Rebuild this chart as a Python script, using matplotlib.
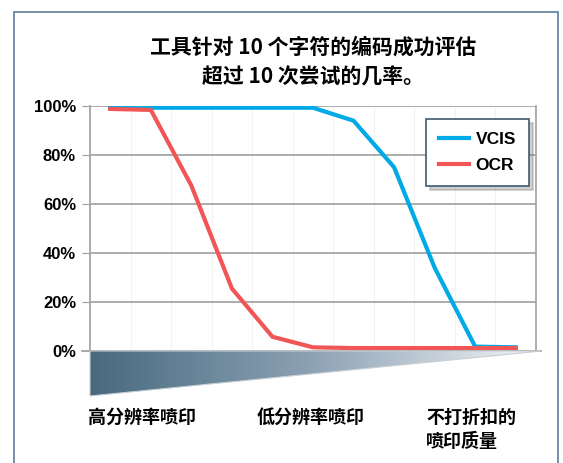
import numpy as np
import matplotlib
matplotlib.use("Agg")
import matplotlib.pyplot as plt
from matplotlib.patches import Polygon, Rectangle
from matplotlib.colors import LinearSegmentedColormap

plt.rcParams['font.family'] = ['Liberation Sans', 'Noto Sans CJK SC', 'DejaVu Sans']

# ---- data ----
categories = list(range(11))
vcis = [99.3, 99.3, 99.3, 99.3, 99.3, 99.3, 94, 75, 34, 1.8, 1.5]
ocr = [98.8, 98.4, 67.5, 25.5, 5.8, 1.5, 1.2, 1.2, 1.2, 1.2, 1.2]
series_names = ["VCIS", "OCR"]
ytick_values = [0, 20, 40, 60, 80, 100]
ytick_labels = ["0%", "20%", "40%", "60%", "80%", "100%"]
title_text = "工具针对 10 个字符的编码成功评估\n超过 10 次尝试的几率。"
xlabels = ["高分辨率喷印", "低分辨率喷印", "不打折扣的\n喷印质量"]

W, H = 563, 463
fig = plt.figure(figsize=(W / 100, H / 100), dpi=100)

# outer frame
fig.patches.append(Rectangle((14 / W, -0.05), (558 - 14) / W, 1.05 - 12 / H,
                             transform=fig.transFigure, fill=False,
                             edgecolor="#6b87a2", linewidth=1.3))

ax_l, ax_r, ax_t, ax_b = 90, 536, 106, 351
ax = fig.add_axes([ax_l / W, 1 - ax_b / H, (ax_r - ax_l) / W, (ax_b - ax_t) / H])

blue = "#00aae6"
red = "#f05656"
ax.plot(categories, vcis, color=blue, lw=3.0, label=series_names[0], solid_joinstyle="miter", zorder=3)
ax.plot(categories, ocr, color=red, lw=3.0, label=series_names[1], solid_joinstyle="miter", zorder=4)

ax.set_yticks(ytick_values)
ax.set_yticklabels(ytick_labels, fontsize=12, fontweight="bold")
ax.tick_params(axis="y", length=6, color="#a0a0a0", pad=4)
ax.set_xticks([])

for y in ytick_values:
    ax.axhline(y, color="#a6a6a6", lw=1.3, zorder=1)
for xb in np.arange(-0.5, 10.6, 1.0):
    ax.axvline(xb, color="#f2f2f2", lw=0.8, zorder=0.5)
for s in ["left", "right"]:
    ax.spines[s].set_color("#a6a6a6")
    ax.spines[s].set_linewidth(1.3)
ax.spines["top"].set_visible(False)
ax.spines["bottom"].set_visible(False)
ax.set_xlim(-0.5, 10.5)
ax.set_ylim(0, 100)

# gradient triangle below axis (decorative wedge)
tri_r, tri_b = 541, 396
axg = fig.add_axes([ax_l / W, 1 - tri_b / H, (tri_r - ax_l) / W, (tri_b - ax_b) / H])
axg.set_axis_off()
axg.set_xlim(0, 1)
axg.set_ylim(0, 1)
tri = Polygon([[0, 1], [1, 1], [0, 0]], closed=True, transform=axg.transAxes,
              facecolor="none", edgecolor="#c8ced4", lw=0.8, clip_on=False)
axg.add_patch(tri)
cmap = LinearSegmentedColormap.from_list("g", ["#48697f", "#8ea3b5", "#f4f6f8"])
grad = np.linspace(0, 1, 256).reshape(1, -1)
im = axg.imshow(grad, extent=[0, 1, 0, 1], aspect="auto", cmap=cmap,
                interpolation="bilinear", transform=axg.transAxes)
im.set_clip_path(tri)
axg.set_xlim(0, 1)
axg.set_ylim(0, 1)

# 0% axis line across to wedge tip
ax.plot([-0.5 - 8 / ((ax_r - ax_l) / 11.0), 10.5 + 5 / ((ax_r - ax_l) / 11.0)], [0, 0],
        color="#a6a6a6", lw=1.3, clip_on=False, zorder=5)

# title
fig.text((ax_l + ax_r) / 2 / W, 1 - 37 / H, title_text, ha="center", va="top",
         fontsize=15, fontweight="bold", linespacing=1.5,
         family=['Noto Sans CJK SC', 'DejaVu Sans'])

# category labels
for xpx, lab in zip([88, 257, 426], xlabels):
    fig.text(xpx / W, 1 - 408 / H, lab, ha="left", va="top", fontsize=13,
             fontweight="bold", linespacing=1.35,
             family=['Noto Sans CJK SC', 'DejaVu Sans'])

leg = ax.legend(loc="upper right", bbox_to_anchor=(529 / W, 1 - 119 / H),
                bbox_transform=fig.transFigure, borderaxespad=0,
                fancybox=False, shadow={"color": "#777777", "alpha": 0.35, "ox": 3, "oy": -3},
                prop={"size": 12.5, "weight": "bold"}, handlelength=1.7,
                handletextpad=0.4, labelspacing=0.6, borderpad=0.75)
leg.get_frame().set_edgecolor("#40596f")
leg.get_frame().set_linewidth(1.2)
for h in leg.get_lines():
    h.set_linewidth(3.0)

fig.savefig("out.png", dpi=100)
